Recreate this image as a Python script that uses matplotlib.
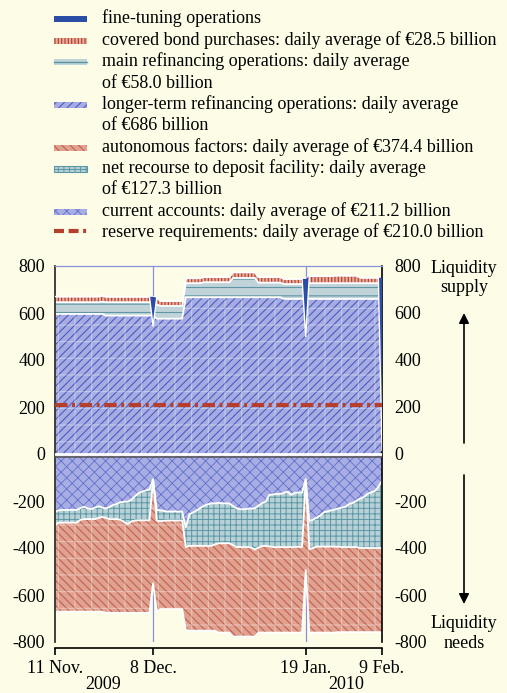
import numpy as np
import pandas as pd
import matplotlib
matplotlib.use('Agg')
import matplotlib.pyplot as plt
from matplotlib.patches import Rectangle
from matplotlib.lines import Line2D

plt.rcParams['font.family'] = ['Liberation Serif', 'DejaVu Serif']
plt.rcParams['hatch.linewidth'] = 0.8

# ---------------- data (EUR billions, daily) ----------------
dates = pd.date_range('2009-11-11', '2010-02-09', freq='D')

# liquidity supply
ltro = [596, 596, 596, 596, 596, 596, 596, 596, 596, 596, 596, 596, 596, 596,
        589, 589, 589, 589, 589, 589, 589, 589, 589, 589, 589, 589, 589, 589,
        576, 576, 576, 576, 576, 576, 576, 576,
        667, 667, 667, 667, 667, 667, 667, 667, 667, 667, 667, 667, 667, 667,
        667, 667, 667, 667, 667, 667, 667, 667, 667, 667, 667, 667, 667,
        660, 660, 660, 660, 660, 660, 660, 660, 660, 660, 660, 660, 660, 660,
        660, 660, 660, 660, 660, 660, 660, 660, 660, 660, 660, 660, 660, 660]
mro = [50, 50, 50, 50, 50, 50, 50, 50, 50, 50, 50, 50, 50, 52,
       57, 57, 57, 57, 57, 57, 57, 57, 57, 57, 57, 57, 57, 57,
       60, 54, 54, 54, 54, 54, 54, 54,
       60, 60, 60, 60, 60, 64, 64, 64, 64, 64, 64, 64, 64,
       82, 82, 82, 82, 82, 82, 82, 62, 62, 62, 62, 62, 62, 62,
       63, 63, 63, 63, 63, 63, 63,
       67, 67, 67, 67, 67, 67, 67, 67, 67, 67, 67, 67, 67, 67,
       67, 67, 67, 67, 67, 67, 67]
cbpp = [24, 24, 24, 24, 24, 24, 24, 24, 24, 24, 24, 24, 24, 25,
        23, 23, 23, 23, 23, 23, 23, 23, 23, 23, 23, 23, 23, 23,
        29, 21, 21, 21, 21, 21, 21, 21,
        21, 21, 21, 21, 21, 22, 22, 22, 22, 22, 22, 22, 22,
        24, 24, 24, 24, 24, 24, 24, 24, 24, 24, 24, 24, 24, 24,
        22, 22, 22, 22, 22, 22, 22,
        30, 30, 30, 30, 30, 30, 30, 32, 32, 32, 32, 32, 32, 32,
        23, 23, 23, 23, 23, 23, 23]
fine_tuning = [0, 0, 0, 0, 0, 0, 0, 0, 0, 0, 0, 0, 0, 0, 0, 0, 0, 0, 0, 0,
               0, 0, 0, 0, 0, 0, 0, -125, 0, 0, 0, 0, 0, 0, 0, 0, 0, 0, 0, 0,
               0, 0, 0, 0, 0, 0, 0, 0, 0, 0, 0, 0, 0, 0, 0, 0, 0, 0, 0, 0,
               0, 0, 0, 0, 0, 0, 0, 0, 0, -245, 0, 0, 0, 0, 0, 0, 0, 0, 0, 0,
               0, 0, 0, 0, 0, 0, 0, 0, 0, 0, -735]

# liquidity needs
current_accounts = [245, 240, 238, 238, 238, 238, 238, 230, 224, 232,
                    234, 228, 222, 228, 232, 225, 217, 212, 205, 203,
                    203, 195, 180, 166, 160, 155, 150, 107, 238, 240,
                    242, 245, 245, 244, 245, 245, 312, 256, 249, 240,
                    230, 220, 214, 210, 210, 208, 210, 210, 210, 222,
                    231, 235, 235, 233, 232, 231, 220, 209, 203, 174,
                    172, 170, 170, 165, 160, 174, 165, 164, 164, 107,
                    285, 280, 270, 262, 248, 244, 240, 236, 232, 228,
                    224, 212, 208, 198, 190, 183, 170, 163, 158, 140,
                    113]
deposit_facility = [57, 52, 54, 54, 54, 54, 54, 50, 53, 45,
                    43, 49, 50, 40, 40, 52, 60, 65, 75, 87,
                    95, 93, 103, 116, 122, 127, 132, 3, 45, 46,
                    42, 38, 38, 39, 38, 38, 84, 135, 142, 151,
                    161, 171, 177, 181, 175, 172, 170, 170, 170, 166,
                    165, 161, 161, 163, 166, 176, 178, 183, 188, 219,
                    224, 226, 226, 231, 236, 222, 231, 231, 232, 3,
                    120, 120, 124, 132, 146, 150, 154, 158, 163, 168,
                    172, 184, 188, 198, 210, 217, 230, 237, 242, 260,
                    287]
autonomous = [369, 379, 379, 379, 379, 379, 379, 391, 394, 394,
              394, 394, 399, 403, 404, 399, 399, 399, 396, 386,
              378, 388, 393, 394, 394, 394, 394, 440, 388, 374,
              376, 377, 377, 377, 377, 377, 353, 361, 361, 361,
              361, 361, 361, 361, 367, 380, 380, 380, 380, 389,
              381, 381, 381, 381, 379, 370, 362, 368, 369, 367,
              364, 364, 364, 364, 364, 364, 364, 365, 364, 384,
              355, 360, 366, 366, 366, 366, 366, 366, 363, 362,
              362, 362, 362, 362, 358, 358, 358, 358, 358, 358,
              358]
reserve_requirement = 210.0

tick_dates = ['2009-11-11', '2009-12-08', '2010-01-19', '2010-02-09']
tick_labels = ['11 Nov.', '8 Dec.', '19 Jan.', '9 Feb.']
fine_tuning_dates = ['2009-12-08', '2010-01-19']
y_ticks = [-800, -600, -400, -200, 0, 200, 400, 600, 800]
y_labels = ['-800', '-600', '-400', '-200', '0', '200', '400', '600', '800']

legend_lines = ['fine-tuning operations',
                'covered bond purchases: daily average of €28.5 billion',
                'main refinancing operations: daily average',
                'of €58.0 billion',
                'longer-term refinancing operations: daily average',
                'of €686 billion',
                'autonomous factors: daily average of €374.4 billion',
                'net recourse to deposit facility: daily average',
                'of €127.3 billion',
                'current accounts: daily average of €211.2 billion',
                'reserve requirements: daily average of €210.0 billion']

# ---------------- colours ----------------
BG = '#FDFCE6'
LTRO_F, LTRO_H = '#A6ACE2', '#4B5CC2'
CA_F, CA_H = '#A8AEE3', '#6170CC'
MRO_F, MRO_H = '#C0D3D9', '#5E96A4'
DEP_F, DEP_H = '#B9D1D6', '#5A98A5'
AUT_F, AUT_H = '#DFA291', '#C45F4E'
CB_F, CB_H = '#E4AC9B', '#B33A2E'
FT_C = '#2C4DA6'
RES_C = '#B63E2C'
VLINE = '#8A90DA'

W, H = 507, 693
fig = plt.figure(figsize=(W / 100, H / 100), dpi=100)
fig.patch.set_facecolor(BG)
ax = fig.add_axes([55 / W, 1 - 642 / H, 327 / W, 376 / H])
ax.set_facecolor(BG)

s1 = np.array(ltro, float)
s2 = s1 + np.array(mro)
s3 = s2 + np.array(cbpp)
s4 = s3 + np.array(fine_tuning)
n1 = -np.array(current_accounts, float)
n2 = n1 - np.array(deposit_facility)
n3 = n2 - np.array(autonomous)


def layer(lo, hi, face, hc, hatch, grid=False, hlw=0.8):
    plt.rcParams['hatch.linewidth'] = hlw
    ax.fill_between(dates, lo, hi, facecolor=face, edgecolor=hc, hatch=hatch,
                    linewidth=0, zorder=1)
    if grid:
        plt.rcParams['hatch.linewidth'] = 0.8
        ax.fill_between(dates, lo, hi, facecolor='none', edgecolor=(1, 1, 1, 0.35),
                        hatch='+', linewidth=0, zorder=1.1)
    plt.rcParams['hatch.linewidth'] = 0.8


for d in fine_tuning_dates:
    ax.axvline(pd.Timestamp(d), color=VLINE, lw=0.9, zorder=0.5)

layer(0, s1, LTRO_F, LTRO_H, '////', grid=True)
layer(s1, s2, MRO_F, MRO_H, '--')
layer(s2, s3, CB_F, CB_H, '|||||')
layer(0, n1, CA_F, CA_H, 'xxx', hlw=0.6)
layer(n1, n2, DEP_F, DEP_H, '+++', hlw=0.7)
layer(n2, n3, AUT_F, AUT_H, '\\\\\\\\', grid=True)

for b in (s1, s2, s3, n1, n2, n3):
    ax.plot(dates, b, color='white', lw=1.3, zorder=2)

ax.fill_between(dates, s3, s4, facecolor=FT_C, linewidth=0, zorder=3)
ax.plot(dates, s4, color='white', lw=1.0, zorder=3.5)

ax.axhline(0, color='white', lw=2, zorder=4)
ax.axhline(-12, color='#5A5A5A', lw=1.2, zorder=4)
ax.axhline(reserve_requirement, color=RES_C, lw=3,
           ls=(0, (3.0, 1.1, 0.7, 1.1)), zorder=5)

ax.set_xlim(dates[0], dates[-1])
ax.set_ylim(-800, 800)

ax.spines['top'].set_color(VLINE)
ax.spines['top'].set_linewidth(0.9)
ax.spines['left'].set_color('#333333')
ax.spines['left'].set_linewidth(1.3)
ax.spines['right'].set_color('black')
ax.spines['right'].set_linewidth(1.2)
ax.spines['bottom'].set_color('black')
ax.spines['bottom'].set_linewidth(1.2)
ax.spines['bottom'].set_position(('outward', 4))

ax.set_xticks(pd.to_datetime(tick_dates))
ax.set_xticklabels(tick_labels, fontsize=13)
ax.tick_params(axis='x', direction='out', length=5, width=1.2, pad=4)
ax.set_yticks(y_ticks)
ax.set_yticklabels(y_labels, fontsize=13)
ax.tick_params(axis='y', length=0, pad=7)

ax2 = ax.twinx()
ax2.set_ylim(-800, 800)
ax2.set_yticks(y_ticks)
ax2.set_yticklabels(y_labels, fontsize=13)
ax2.tick_params(axis='y', length=0, pad=9)
for sp in ax2.spines.values():
    sp.set_visible(False)

fig.text(103 / W, 1 - 689 / H, '2009', ha='center', va='baseline', fontsize=13)
fig.text(346 / W, 1 - 689 / H, '2010', ha='center', va='baseline', fontsize=13)

fig.text(464 / W, 1 - 272.7 / H, 'Liquidity', ha='center', va='baseline', fontsize=13)
fig.text(464 / W, 1 - 291.7 / H, 'supply', ha='center', va='baseline', fontsize=13)
fig.text(464 / W, 1 - 628 / H, 'Liquidity', ha='center', va='baseline', fontsize=13)
fig.text(464 / W, 1 - 648 / H, 'needs', ha='center', va='baseline', fontsize=13)

arrow = dict(arrowstyle='-|>', color='black', lw=1.2, mutation_scale=15,
             shrinkA=0, shrinkB=0)
ax.annotate('', xy=(464, H - 313), xytext=(464, H - 443), xycoords='figure pixels',
            textcoords='figure pixels', arrowprops=arrow, annotation_clip=False)
ax.annotate('', xy=(464, H - 604), xytext=(464, H - 475), xycoords='figure pixels',
            textcoords='figure pixels', arrowprops=arrow, annotation_clip=False)

# ---------------- legend (drawn manually) ----------------
baselines = [23.3 + 21.4 * i for i in range(len(legend_lines))]
for i, line in enumerate(legend_lines):
    fig.text(102 / W, 1 - baselines[i] / H, line, ha='left', va='baseline', fontsize=13)


def legpatch(row, face, hc, hatch, lw=0.0, hlw=0.8):
    plt.rcParams['hatch.linewidth'] = hlw
    y = baselines[row]
    r = Rectangle((54 / W, 1 - (y - 1) / H), 33 / W, 6 / H, transform=fig.transFigure,
                  facecolor=face, edgecolor=hc, hatch=hatch, linewidth=lw)
    fig.add_artist(r)
    plt.rcParams['hatch.linewidth'] = 0.8


legpatch(0, FT_C, FT_C, None)
legpatch(1, CB_F, CB_H, '|||||')
legpatch(2, MRO_F, MRO_F, None)
fig.add_artist(Line2D([54 / W, 87 / W], [1 - (baselines[2] - 4) / H] * 2,
                      transform=fig.transFigure, color=MRO_H, lw=1.0))
legpatch(4, LTRO_F, LTRO_H, '////')
legpatch(6, AUT_F, AUT_H, '\\\\\\\\')
legpatch(7, DEP_F, DEP_H, '+++', lw=0.8, hlw=0.7)
legpatch(9, CA_F, CA_H, 'xxx', hlw=0.6)
fig.add_artist(Line2D([54 / W, 87 / W], [1 - (baselines[10] - 6) / H] * 2,
                      transform=fig.transFigure, color=RES_C, lw=3,
                      ls=(0, (2.4, 1.1, 2.4, 1.1, 0.7, 1.1))))

fig.savefig('out.png', dpi=100, facecolor=BG)
